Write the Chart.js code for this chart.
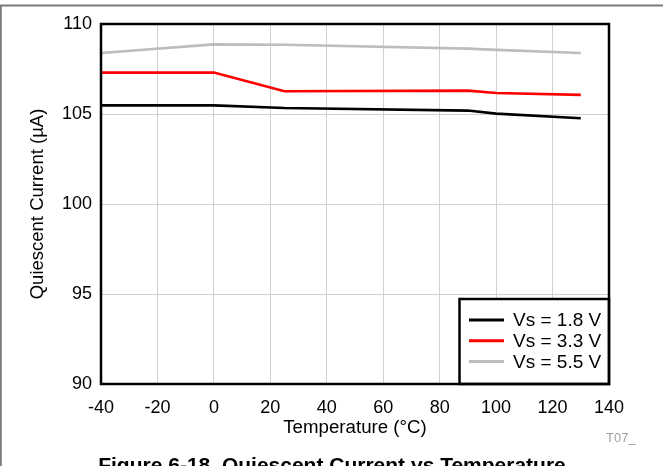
<!DOCTYPE html>
<html>
<head>
<meta charset="utf-8">
<script src="https://cdn.jsdelivr.net/npm/chart.js@4/dist/chart.umd.min.js"></script>
<style>
html,body{margin:0;padding:0;background:#fff;}
#wrap{width:663px;height:466px;position:relative;}
canvas{display:block;}
</style>
</head>
<body>
<div id="wrap"><canvas id="c" width="663" height="466"></canvas></div>
<script>
// ---- data ----
const temperatures = [-40, 0, 25, 90, 100, 130];
const vs18 = [105.48, 105.48, 105.33, 105.19, 105.02, 104.76];
const vs33 = [107.30, 107.30, 106.26, 106.30, 106.17, 106.06];
const vs55 = [108.39, 108.87, 108.85, 108.63, 108.56, 108.39];
const seriesLabels = ['Vs = 1.8 V', 'Vs = 3.3 V', 'Vs = 5.5 V'];
const xTitle = 'Temperature (°C)';
const yTitle = 'Quiescent Current (µA)';
const caption = 'Figure 6-18. Quiescent Current vs Temperature';
const tag = 'T07_';

const FONT = "'Liberation Sans', Arial, Helvetica, sans-serif";
const colors = ['#000000', '#ff0000', '#bdbdbd'];

function pts(vals){ return temperatures.map((t,i)=>({x:t, y:vals[i]})); }

const decor = {
  id: 'decor',
  beforeDraw(chart){
    const ctx = chart.ctx;
    ctx.save();
    ctx.fillStyle = '#fff';
    ctx.fillRect(0,0,chart.width,chart.height);
    ctx.strokeStyle = '#7a7a7a';
    ctx.lineWidth = 2;
    ctx.beginPath();
    ctx.moveTo(0,5.5); ctx.lineTo(663,5.5);
    ctx.moveTo(0.8,5); ctx.lineTo(0.8,466);
    ctx.stroke();
    ctx.restore();
  },
  afterDraw(chart){
    const ctx = chart.ctx;
    const a = chart.chartArea;
    ctx.save();
    const ds = chart.data.datasets;
    const bx = 459.5, by = 299, bw = a.right - 459.5, bh = a.bottom - 299;
    ctx.fillStyle = '#fff';
    ctx.fillRect(bx, by, bw, bh);
    ctx.strokeStyle = '#000';
    ctx.lineWidth = 2.5;
    ctx.strokeRect(bx, by, bw, bh);
    ctx.font = '19px ' + FONT;
    ctx.textBaseline = 'middle';
    ctx.textAlign = 'left';
    ds.forEach((d,i)=>{
      const y = 320 + i*20.8;
      ctx.strokeStyle = d.borderColor;
      ctx.lineWidth = 3;
      ctx.beginPath();
      ctx.moveTo(469, y); ctx.lineTo(504, y);
      ctx.stroke();
      ctx.fillStyle = '#000';
      ctx.fillText(d.label, 513, y + 1);
    });
    ctx.strokeStyle = '#000';
    ctx.lineWidth = 2.5;
    ctx.strokeRect(a.left, a.top, a.right - a.left, a.bottom - a.top);
    ctx.fillStyle = '#a0a0a0';
    ctx.font = '13px ' + FONT;
    ctx.textBaseline = 'alphabetic';
    ctx.fillText(tag, 606, 442);
    ctx.fillStyle = '#000';
    ctx.font = 'bold 21px ' + FONT;
    ctx.textAlign = 'center';
    ctx.fillText(caption, 332, 472);
    ctx.restore();
  }
};

new Chart(document.getElementById('c'), {
  type: 'line',
  data: {
    datasets: [
      {label: seriesLabels[0], data: pts(vs18), borderColor: colors[0], backgroundColor: colors[0]},
      {label: seriesLabels[1], data: pts(vs33), borderColor: colors[1], backgroundColor: colors[1]},
      {label: seriesLabels[2], data: pts(vs55), borderColor: colors[2], backgroundColor: colors[2]}
    ].map(d => Object.assign(d, {borderWidth: 2.6, pointRadius: 0, tension: 0, fill: false}))
  },
  options: {
    responsive: false,
    animation: false,
    devicePixelRatio: 1,
    layout: {padding: {top: 24, right: 54, bottom: 0, left: 0}},
    plugins: {legend: {display: false}, tooltip: {enabled: false}},
    scales: {
      x: {
        type: 'linear', min: -40, max: 140,
        afterFit(s){ s.height = 82; },
        ticks: {stepSize: 20, color: '#000', font: {family: FONT, size: 18}, padding: 13, maxRotation: 0},
        grid: {color: '#d0d0d0', lineWidth: 1, drawTicks: false},
        border: {display: false},
        title: {display: true, text: xTitle, color: '#000', font: {family: FONT, size: 18.7}, padding: {top: 0, bottom: 27}}
      },
      y: {
        type: 'linear', min: 90, max: 110,
        afterFit(s){ s.width = 101; },
        ticks: {stepSize: 5, color: '#000', font: {family: FONT, size: 18}, padding: 9},
        grid: {color: '#d0d0d0', lineWidth: 1, drawTicks: false},
        border: {display: false},
        title: {display: true, text: yTitle, color: '#000', font: {family: FONT, size: 18.5}, padding: {top: 27, bottom: 0}}
      }
    }
  },
  plugins: [decor]
});
</script>
</body>
</html>
